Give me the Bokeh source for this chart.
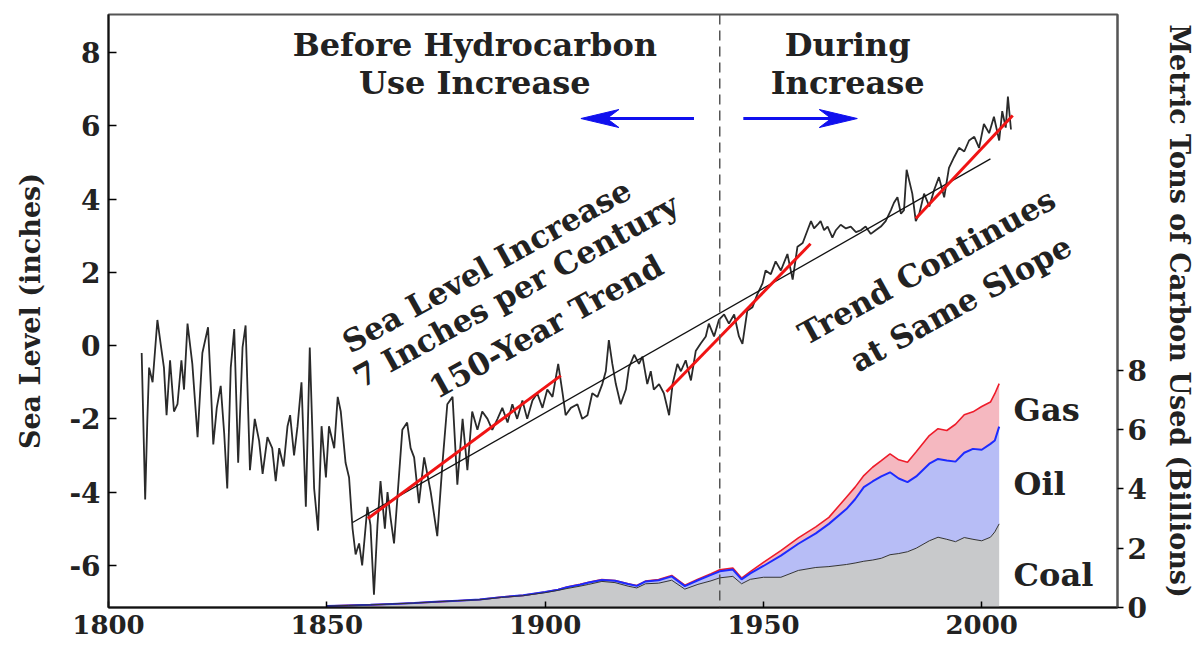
import numpy as np
from bokeh.plotting import figure
from bokeh.models import Range1d, LinearAxis, FixedTicker, Span
from bokeh.core.properties import value
from bokeh.embed import file_html
from bokeh.resources import INLINE

# ---------------- data ----------------
sea_years = [
    1807.6, 1808.4, 1808.9, 1809.3, 1810.1, 1811.2, 1812.0, 1812.7, 1813.3, 1814.1,
    1815.0, 1815.8, 1816.7, 1817.3, 1818.1, 1819.2, 1820.4, 1821.5, 1822.8, 1823.4,
    1824.0, 1824.8, 1825.7, 1826.5, 1827.2, 1828.0, 1828.8, 1829.7, 1830.7, 1831.4,
    1832.4, 1833.5, 1834.5, 1835.3, 1836.4, 1837.5, 1838.3, 1839.1, 1840.1, 1841.0,
    1841.6, 1842.5, 1843.3, 1844.2, 1845.2, 1846.1, 1847.1, 1848.0, 1848.8, 1849.8,
    1850.5, 1851.7, 1852.5, 1853.2, 1854.3, 1855.1, 1855.9, 1856.6, 1857.4, 1858.1,
    1859.3, 1860.0, 1860.8, 1861.6, 1862.3, 1863.3, 1863.9, 1864.6, 1865.4, 1866.2,
    1867.3, 1868.4, 1869.2, 1870.0, 1871.1, 1872.3, 1873.8, 1875.3, 1876.5, 1877.6,
    1878.8, 1879.9, 1881.1, 1882.2, 1883.3, 1884.5, 1885.6, 1886.8, 1887.9, 1889.1,
    1890.2, 1891.4, 1892.5, 1893.6, 1894.8, 1895.9, 1897.1, 1898.2, 1899.4, 1900.5,
    1901.7, 1903.0, 1904.0, 1904.7, 1905.9, 1907.4, 1908.5, 1909.7, 1910.8, 1912.0,
    1913.1, 1913.9, 1914.6, 1915.4, 1916.2, 1917.3, 1918.5, 1919.2, 1920.4, 1921.5,
    1922.3, 1923.4, 1924.2, 1924.9, 1926.1, 1927.2, 1928.4, 1929.2, 1930.3, 1931.1,
    1932.2, 1933.4, 1934.5, 1935.6, 1936.8, 1937.5, 1938.7, 1939.8, 1941.0, 1942.1,
    1943.3, 1944.4, 1945.2, 1946.3, 1947.5, 1948.6, 1949.8, 1950.5, 1951.7, 1952.8,
    1954.0, 1955.5, 1956.7, 1957.8, 1959.0, 1960.1, 1960.9, 1961.6, 1962.4, 1963.1,
    1963.9, 1964.7, 1965.8, 1966.6, 1967.7, 1968.9, 1970.0, 1971.2, 1972.3, 1973.4,
    1974.6, 1975.7, 1976.9, 1978.0, 1979.2, 1979.9, 1980.7, 1981.5, 1982.2, 1982.8,
    1984.1, 1984.9, 1985.7, 1986.8, 1988.0, 1989.1, 1990.2, 1991.4, 1992.5, 1993.7,
    1994.8, 1996.0, 1997.1, 1998.3, 1999.4, 2000.5, 2001.7, 2002.8, 2004.0, 2004.7,
    2005.5, 2006.0, 2006.7,
]
sea_level = [
    -0.2, -4.2, -2.0, -0.6, -1.0, 0.7, 0.0, -0.6, -1.9, -0.4,
    -1.8, -1.6, -0.4, -1.2, 0.6, -0.5, -2.5, -0.2, 0.5, -1.0,
    -2.7, -1.7, -1.1, -2.4, -3.9, -0.6, 0.45, -3.2, -0.05, 0.55,
    -3.4, -2.0, -2.6, -3.5, -2.5, -2.8, -3.7, -2.8, -3.3, -2.2,
    -1.9, -3.0, -2.2, -1.0, -4.4, -0.05, -3.9, -5.05, -2.2, -3.6,
    -2.2, -2.8, -1.4, -1.8, -3.2, -3.6, -5.0, -5.7, -5.4, -6.0,
    -4.4, -4.9, -6.8, -4.9, -3.7, -5.0, -4.0, -4.7, -5.4, -4.1,
    -2.3, -2.1, -2.8, -3.05, -4.3, -3.05, -4.0, -5.2, -3.2, -1.6,
    -1.4, -3.8, -2.0, -3.4, -1.8, -2.3, -1.8, -2.0, -2.3, -2.0,
    -1.7, -2.1, -1.6, -2.0, -1.5, -2.0, -1.5, -1.3, -1.7, -1.2,
    -1.4, -0.5, -1.3, -1.9, -1.7, -1.6, -2.0, -1.9, -1.3, -1.4,
    -1.05, -0.7, 0.15, -0.5, -1.05, -1.6, -1.2, -0.6, -0.25, -0.5,
    -0.3, -1.05, -0.7, -1.2, -1.05, -1.3, -1.9, -1.05, -0.5, -0.7,
    -0.4, -0.95, -0.15, 0.05, 0.25, 0.6, 0.25, 0.7, 0.85, 0.6,
    0.85, 0.25, 0.05, 0.95, 1.05, 1.4, 1.7, 2.05, 1.95, 2.3,
    2.05, 2.5, 1.8, 2.7, 2.8, 3.15, 3.4, 3.2, 3.3, 3.4,
    3.15, 3.25, 2.95, 3.15, 3.3, 3.2, 3.25, 3.1, 3.15, 3.25,
    3.05, 3.15, 3.25, 3.4, 3.7, 3.9, 4.05, 3.6, 3.7, 4.8,
    4.15, 3.4, 3.6, 4.15, 3.8, 4.25, 4.6, 4.05, 4.85, 5.15,
    5.4, 5.3, 5.6, 5.7, 5.4, 6.05, 5.8, 6.25, 5.6, 6.4,
    5.95, 6.8, 5.9,
]

# 150-year trend (7 inches per century) and the three red local trends
trend_years = [1855.9, 2002.0]
trend_level = [-4.83, 5.10]
seg_years = [[1859.4, 1903.6], [1927.8, 1960.8], [1984.9, 2007.1]]
seg_level = [[-4.72, -0.82], [-1.26, 2.78], [3.47, 6.28]]

# Carbon used, billions of metric tons, by fuel
carbon_years = [
    1850, 1855, 1860, 1865, 1870, 1875, 1880, 1885, 1890, 1895,
    1900, 1903, 1905, 1908, 1910, 1913, 1916, 1919, 1921, 1923,
    1926, 1929, 1932, 1935, 1938, 1940, 1943, 1945, 1947, 1950,
    1954, 1958, 1962, 1965, 1969, 1971, 1973, 1975, 1977, 1979,
    1981, 1983, 1985, 1988, 1990, 1992, 1994, 1996, 1998, 2000,
    2002, 2003, 2004,
]
coal = [
    0.05, 0.07, 0.09, 0.12, 0.15, 0.19, 0.23, 0.26, 0.34, 0.40,
    0.50, 0.58, 0.64, 0.72, 0.78, 0.88, 0.84, 0.72, 0.66, 0.80,
    0.82, 0.92, 0.62, 0.78, 0.90, 1.00, 1.05, 0.80, 0.95, 1.02,
    1.02, 1.25, 1.35, 1.38, 1.45, 1.50, 1.56, 1.60, 1.66, 1.78,
    1.82, 1.88, 2.00, 2.25, 2.37, 2.30, 2.22, 2.36, 2.30, 2.25,
    2.37, 2.55, 2.82,
]
oil = [
    0.00, 0.00, 0.00, 0.00, 0.00, 0.00, 0.00, 0.01, 0.01, 0.01,
    0.02, 0.02, 0.04, 0.05, 0.06, 0.05, 0.06, 0.07, 0.07, 0.08,
    0.10, 0.13, 0.10, 0.14, 0.20, 0.22, 0.23, 0.15, 0.20, 0.38,
    0.73, 0.90, 1.15, 1.44, 1.87, 2.15, 2.50, 2.65, 2.76, 2.78,
    2.53, 2.35, 2.42, 2.60, 2.64, 2.66, 2.70, 2.86, 3.05, 3.07,
    3.15, 3.08, 3.28,
]
gas = [
    0.00, 0.00, 0.00, 0.00, 0.00, 0.00, 0.00, 0.00, 0.00, 0.00,
    0.00, 0.01, 0.01, 0.01, 0.01, 0.01, 0.01, 0.01, 0.01, 0.01,
    0.02, 0.03, 0.03, 0.03, 0.04, 0.05, 0.05, 0.04, 0.06, 0.12,
    0.17, 0.20, 0.22, 0.22, 0.40, 0.41, 0.39, 0.48, 0.53, 0.62,
    0.63, 0.67, 0.83, 0.95, 1.02, 1.01, 1.26, 1.28, 1.25, 1.46,
    1.41, 1.58, 1.45,
]

x_ticks = [1800, 1850, 1900, 1950, 2000]
left_ticks = [-6, -4, -2, 0, 2, 4, 6, 8]
right_ticks = [0, 2, 4, 6, 8]
divider_year = 1940

# ---------------- figure ----------------
FONT = "DejaVu Serif"
TXT = "#222222"
W, H = 1200, 648
BL, BR, BT, BB = 108, 83, 14, 41
X0, X1 = 1800, 2031.1
Y0, Y1 = -7.15, 9.04

p = figure(width=W, height=H,
           x_range=Range1d(X0, X1), y_range=Range1d(Y0, Y1),
           output_backend="svg", toolbar_location=None,
           min_border_left=BL, min_border_right=BR,
           min_border_top=BT, min_border_bottom=BB)
p.extra_y_ranges = {"carbon": Range1d(0, 20.0)}
p.xgrid.visible = False
p.ygrid.visible = False
p.outline_line_color = "#555555"
p.outline_line_width = 2
p.background_fill_color = "white"
p.border_fill_color = "white"

# pixel scale of the frame (for arrow heads)
px_per_x = (W - BL - BR) / (X1 - X0)
px_per_y = (H - BT - BB) / (Y1 - Y0)

def style_axis(ax, tick_in, tick_out, standoff, size="28px"):
    ax.major_label_text_font = FONT
    ax.major_label_text_font_style = "bold"
    ax.major_label_text_font_size = size
    ax.major_label_text_color = TXT
    ax.axis_label_text_font = FONT
    ax.axis_label_text_font_style = "bold"
    ax.axis_label_text_font_size = "27px"
    ax.axis_label_text_color = TXT
    ax.major_tick_in = tick_in
    ax.major_tick_out = tick_out
    ax.minor_tick_line_color = None
    ax.major_label_standoff = standoff
    ax.major_tick_line_width = 1.5

xa = p.xaxis[0]
xa.ticker = FixedTicker(ticks=x_ticks)
style_axis(xa, 6, 0, 7, size="26px")
xa.axis_line_color = "#111111"
xa.axis_line_width = 2

ya = p.yaxis[0]
ya.ticker = FixedTicker(ticks=left_ticks)
ya.major_label_overrides = {t: str(t) for t in left_ticks}
ya.axis_label = "Sea Level (inches)"
style_axis(ya, 8, 0, 8)
ya.axis_label_standoff = 20
ya.axis_line_color = "#111111"
ya.axis_line_width = 2

ra = LinearAxis(y_range_name="carbon", ticker=FixedTicker(ticks=right_ticks),
                axis_label="Metric Tons of Carbon Used (Billions)")
style_axis(ra, 0, 6, 4)
ra.axis_label_standoff = 14
ra.axis_line_color = "#555555"
ra.axis_line_width = 2
p.add_layout(ra, "right")

# ---------------- carbon stacked areas ----------------
cy = np.array(carbon_years, dtype=float)
coal_top = np.array(coal)
oil_top = coal_top + np.array(oil)
gas_top = oil_top + np.array(gas)

p.varea(x=cy, y1=np.zeros_like(cy), y2=coal_top, fill_color="#c8c9cb", y_range_name="carbon")
p.varea(x=cy, y1=coal_top, y2=oil_top, fill_color="#b7bdf6", y_range_name="carbon")
p.varea(x=cy, y1=oil_top, y2=gas_top, fill_color="#f5b8c0", y_range_name="carbon")
p.line(cy, gas_top, line_color="#ee1c2a", line_width=1.6, y_range_name="carbon")
p.line(cy, oil_top, line_color="#1d2bff", line_width=2, y_range_name="carbon")
p.line(cy, coal_top, line_color="#333333", line_width=1, y_range_name="carbon")

# ---------------- sea level ----------------
p.line(sea_years, sea_level, line_color="#2a2a2a", line_width=1.8)
p.line(trend_years, trend_level, line_color="#111111", line_width=1.3)
p.multi_line(seg_years, seg_level, line_color="#f01414", line_width=3)

p.add_layout(Span(location=divider_year, dimension="height", line_color="#555555",
                  line_dash="10 6", line_width=1.5))

# ---------------- annotations ----------------
def label(x, y, txt, size, angle=0.0, align="center", rng="default", lh=1.0):
    p.text(x=[x], y=[y], text=[txt], angle=np.deg2rad(angle),
           text_font=value(FONT), text_font_style="bold", text_font_size=size,
           text_color=TXT, text_align=align, text_baseline="middle",
           text_line_height=lh, y_range_name=rng)

label(1883.9, 7.68, "Before Hydrocarbon\nUse Increase", "32px")
label(1969.3, 7.68, "During\nIncrease", "32px")

label(1886.6, 2.18, "Sea Level Increase", "31px", angle=29)
label(1893.3, 1.50, "7 Inches per Century", "31px", angle=29)
label(1900.2, 0.52, "150-Year Trend", "31px", angle=29)
label(1987.4, 2.16, "Trend Continues", "31px", angle=29)
label(1995.2, 1.15, "at Same Slope", "31px", angle=29)

label(2007.3, 6.67, "Gas", "32px", align="left", rng="carbon")
label(2007.3, 4.17, "Oil", "32px", align="left", rng="carbon")
label(2007.3, 1.10, "Coal", "32px", align="left", rng="carbon")

# blue arrows (long stealth-style heads)
BLUE = "#1010ee"
arrow_y = 6.2
arrows = [(1934.1, 1908.2), (1945.4, 1971.5)]
HEAD_LEN, HEAD_HALF, HEAD_NOTCH = 38, 9, 12  # pixels
for xs, xe in arrows:
    s = 1 if xe > xs else -1
    back = xe - s * HEAD_LEN / px_per_x
    notch = xe - s * (HEAD_LEN - HEAD_NOTCH) / px_per_x
    hw = HEAD_HALF / px_per_y
    p.line([xs, notch], [arrow_y, arrow_y], line_color=BLUE, line_width=3)
    p.patch([xe, back, notch, back], [arrow_y, arrow_y + hw, arrow_y, arrow_y - hw],
            fill_color=BLUE, line_color=BLUE, line_width=1)

open("out.html", "w").write(file_html(p, INLINE))
